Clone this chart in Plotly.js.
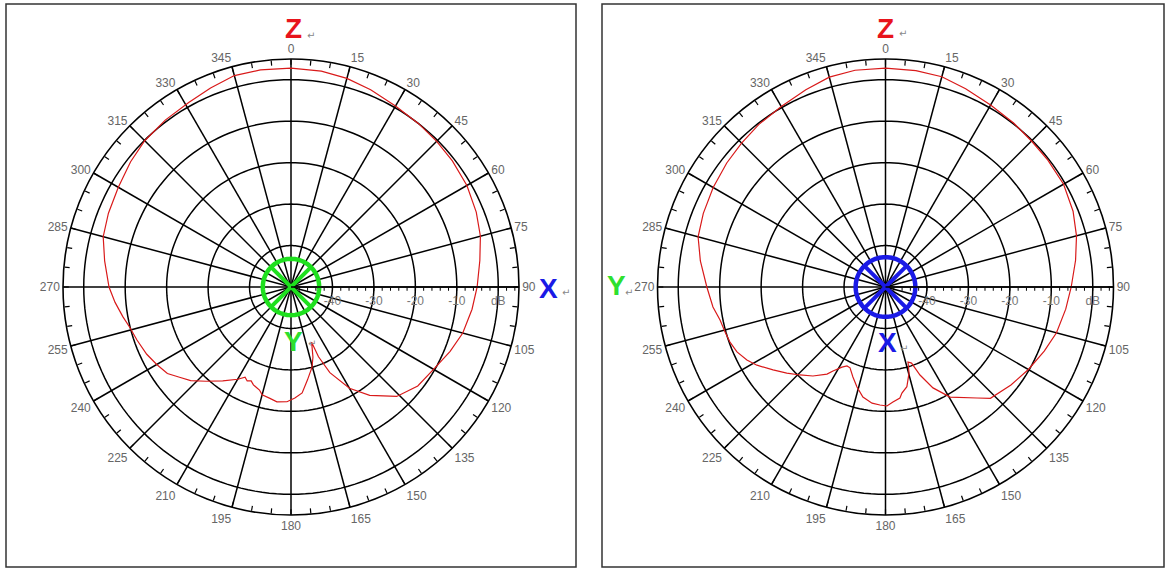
<!DOCTYPE html>
<html>
<head>
<meta charset="utf-8">
<script src="https://cdn.plot.ly/plotly-3.0.1.min.js"></script>
<style>
  html, body { margin: 0; padding: 0; background: #ffffff; }
  #chart { width: 1166px; height: 569px; }
</style>
</head>
<body>
<div id="chart"></div>
<script>
// ---- data (angle in degrees, gain in dB) ----
var leftAngles = [0, 8, 15, 22, 30, 38, 45, 52, 60, 68, 75, 82, 90, 97, 105, 112, 120, 128, 136, 144, 150,
  155.6, 158.5, 159.5, 162.6, 165.3, 170, 174, 178, 182, 187, 191, 195, 197, 201, 203, 205, 207, 210, 216,
  222, 227, 231, 235, 240, 245, 251, 256, 260, 265, 270, 278, 285, 292, 300, 308, 315, 323, 331, 338, 345, 352, 360];
var leftGain = [2.8, 2.6, 2.1, 1.3, 0.4, 0.0, -0.3, -0.6, -1.0, -1.8, -2.7, -4.0, -5.1, -6.0, -7.1, -8.6, -10.3, -11.2, -13.3, -17.7, -21.8,
  -27.3, -31.9, -35.8, -32.3, -30.0, -27.2, -24.3, -23.2, -22.3, -22.1, -22.7, -23.1, -24.0, -24.7, -25.4, -25.0, -25.6, -24.3, -22.0,
  -19.4, -16.9, -15.4, -13.6, -12.6, -11.6, -10.7, -9.9, -8.8, -7.4, -6.1, -4.6, -3.1, -2.5, -1.9, -0.9, -0.1, 0.4, 0.9, 1.8, 2.8, 2.9, 2.8];

var rightAngles = [0, 8, 15, 22, 30, 38, 45, 52, 60, 68, 75, 82, 90, 97, 105, 112, 120, 128, 136.7, 140.5, 149.6,
  154.8, 158.6, 161.1, 163.3, 164.7, 167.9, 171.2, 172.6, 176.3, 179.3, 182.7, 186.6, 191.6, 195.9, 199.9, 203.7, 206, 208.5,
  212, 213.9, 219.2, 224.2, 228.9, 233.6, 238.7, 242.2, 246.4, 250.5, 254.3, 258.7, 263.4, 270, 278, 285, 292, 300, 308, 315,
  322, 330, 338, 345, 352, 360];
var rightGain = [2.8, 2.7, 2.5, 1.6, 0.7, 0.2, -0.2, -0.3, -0.4, -1.2, -2.3, -3.7, -5.2, -6.2, -7.3, -8.7, -10.2, -11.6, -13.1, -15.3, -19.2,
  -23.1, -27.2, -30.6, -31.1, -28.5, -25.4, -24.1, -23.0, -22.2, -21.3, -21.5, -21.8, -22.9, -24.9, -26.9, -28.7, -28.8, -28.0,
  -26.1, -24.7, -22.3, -20.4, -18.4, -16.3, -13.7, -12.2, -10.9, -10.2, -9.8, -9.3, -8.1, -6.9, -4.9, -3.2, -2.6, -2.0, -1.4, -0.9,
  -0.3, 0.3, 1.3, 2.4, 2.8, 2.8];

var radialRange = [-50, 5];
var ringLevels = [-40, -30, -20, -10, 0];
var radialTickLabels = ['-40', '-30', '-20', '-10', 'dB'];
var angleLabelStep = 15;
var angleMinorStep = 5;
var iconRadiusLeft = -43.2;
var iconRadiusRight = -42.8;

// ---- build axes decoration ----
var angTickVals = [], angTickText = [];
for (var a = 0; a < 360; a += angleMinorStep) {
  angTickVals.push(a);
  angTickText.push(a % angleLabelStep === 0 ? String(a) : '');
}
var radTickVals = [], radTickText = [];
for (var v = -48; v <= 4; v += 2) {
  radTickVals.push(v);
  var idx = ringLevels.indexOf(v);
  radTickText.push(idx >= 0 ? radialTickLabels[idx] : '');
}

function gridTraces(sub) {
  var tr = [];
  var rr = [], rt = [];
  ringLevels.forEach(function (lv) {
    for (var t = 0; t <= 360; t += 2) { rr.push(lv); rt.push(t); }
    rr.push(null); rt.push(null);
  });
  tr.push({type: 'scatterpolar', subplot: sub, mode: 'lines', r: rr, theta: rt,
    line: {color: '#000', width: 1.5}, hoverinfo: 'skip', connectgaps: false});
  var sr = [], st = [];
  for (var t = 0; t < 360; t += angleLabelStep) {
    sr.push(radialRange[0], radialRange[1], null); st.push(t, t, null);
  }
  tr.push({type: 'scatterpolar', subplot: sub, mode: 'lines', r: sr, theta: st,
    line: {color: '#000', width: 1.5}, hoverinfo: 'skip', connectgaps: false});
  return tr;
}

function iconTraces(sub, rad, color) {
  var cr = [], ct = [];
  for (var t = 0; t <= 360; t += 4) { cr.push(rad); ct.push(t); }
  return [
    {type: 'scatterpolar', subplot: sub, mode: 'lines', r: cr, theta: ct,
      line: {color: color, width: 4.5}, hoverinfo: 'skip'},
    {type: 'scatterpolar', subplot: sub, mode: 'lines',
      r: [rad, radialRange[0], rad, null, rad, radialRange[0], rad],
      theta: [45, 45, 225, null, 135, 135, 315],
      line: {color: color, width: 4}, hoverinfo: 'skip', connectgaps: false}
  ];
}

var data = [];
data = data.concat(gridTraces('polar'), gridTraces('polar2'));
data.push({type: 'scatterpolar', subplot: 'polar', mode: 'lines', r: leftGain, theta: leftAngles,
  line: {color: '#d91a1a', width: 1.2}, name: 'left'});
data.push({type: 'scatterpolar', subplot: 'polar2', mode: 'lines', r: rightGain, theta: rightAngles,
  line: {color: '#d91a1a', width: 1.2}, name: 'right'});
data = data.concat(iconTraces('polar', iconRadiusLeft, '#1fe01f'), iconTraces('polar2', iconRadiusRight, '#1a1ae6'));

function polarCfg(xdom) {
  return {
    domain: {x: xdom, y: [54 / 569, 510 / 569]},
    bgcolor: 'rgba(0,0,0,0)',
    angularaxis: {
      rotation: 90, direction: 'clockwise',
      tickmode: 'array', tickvals: angTickVals, ticktext: angTickText,
      ticks: 'inside', ticklen: 5, tickwidth: 1.2, tickcolor: '#000',
      showgrid: false, showline: true, linecolor: '#000', linewidth: 1.6,
      tickfont: {family: 'Liberation Sans, Arial, sans-serif', size: 12, color: '#666'}
    },
    radialaxis: {
      range: radialRange, autorange: false, angle: 0, side: 'clockwise',
      tickmode: 'array', tickvals: radTickVals, ticktext: radTickText,
      ticks: 'outside', ticklen: 3, tickwidth: 1, tickcolor: '#000',
      showgrid: false, showline: true, linecolor: '#000', linewidth: 1.5,
      tickfont: {family: 'Liberation Sans, Arial, sans-serif', size: 12, color: '#777'}
    }
  };
}

function px(x) { return x / 1166; }
function py(y) { return 1 - y / 569; }

function letter(x, y, txt, color, size) {
  return {xref: 'paper', yref: 'paper', x: px(x), y: py(y), text: '<b>' + txt + '</b>',
    showarrow: false, xanchor: 'center', yanchor: 'middle',
    font: {family: 'Liberation Sans, Arial, sans-serif', size: size, color: color}};
}
function mark(x, y) {
  return {xref: 'paper', yref: 'paper', x: px(x), y: py(y), text: '\u21B5',
    showarrow: false, xanchor: 'center', yanchor: 'middle',
    font: {family: 'DejaVu Sans, sans-serif', size: 10, color: '#888'}};
}

var layout = {
  width: 1166, height: 569,
  margin: {l: 0, r: 0, t: 0, b: 0},
  paper_bgcolor: '#ffffff',
  showlegend: false,
  hovermode: false,
  polar: polarCfg([63 / 1166, 519 / 1166]),
  polar2: polarCfg([657.5 / 1166, 1113.5 / 1166]),
  shapes: [
    {type: 'rect', xref: 'paper', yref: 'paper', x0: px(6), x1: px(576), y0: py(567), y1: py(4),
      line: {color: '#333', width: 1.5}},
    {type: 'rect', xref: 'paper', yref: 'paper', x0: px(602), x1: px(1164), y0: py(567), y1: py(4),
      line: {color: '#333', width: 1.5}}
  ],
  annotations: [
    letter(293, 29, 'Z', '#e8141c', 28), mark(311, 35),
    letter(548, 288, 'X', '#1a1ae6', 28), mark(566, 292),
    letter(293, 341, 'Y', '#2ee02e', 28), mark(312, 343),
    letter(885, 29, 'Z', '#e8141c', 28), mark(903, 33),
    letter(616, 285, 'Y', '#2ee02e', 28), mark(629, 292),
    letter(887, 342, 'X', '#1a1ae6', 28), mark(904, 348)
  ]
};

Plotly.newPlot('chart', data, layout, {staticPlot: true, displayModeBar: false});
</script>
</body>
</html>
